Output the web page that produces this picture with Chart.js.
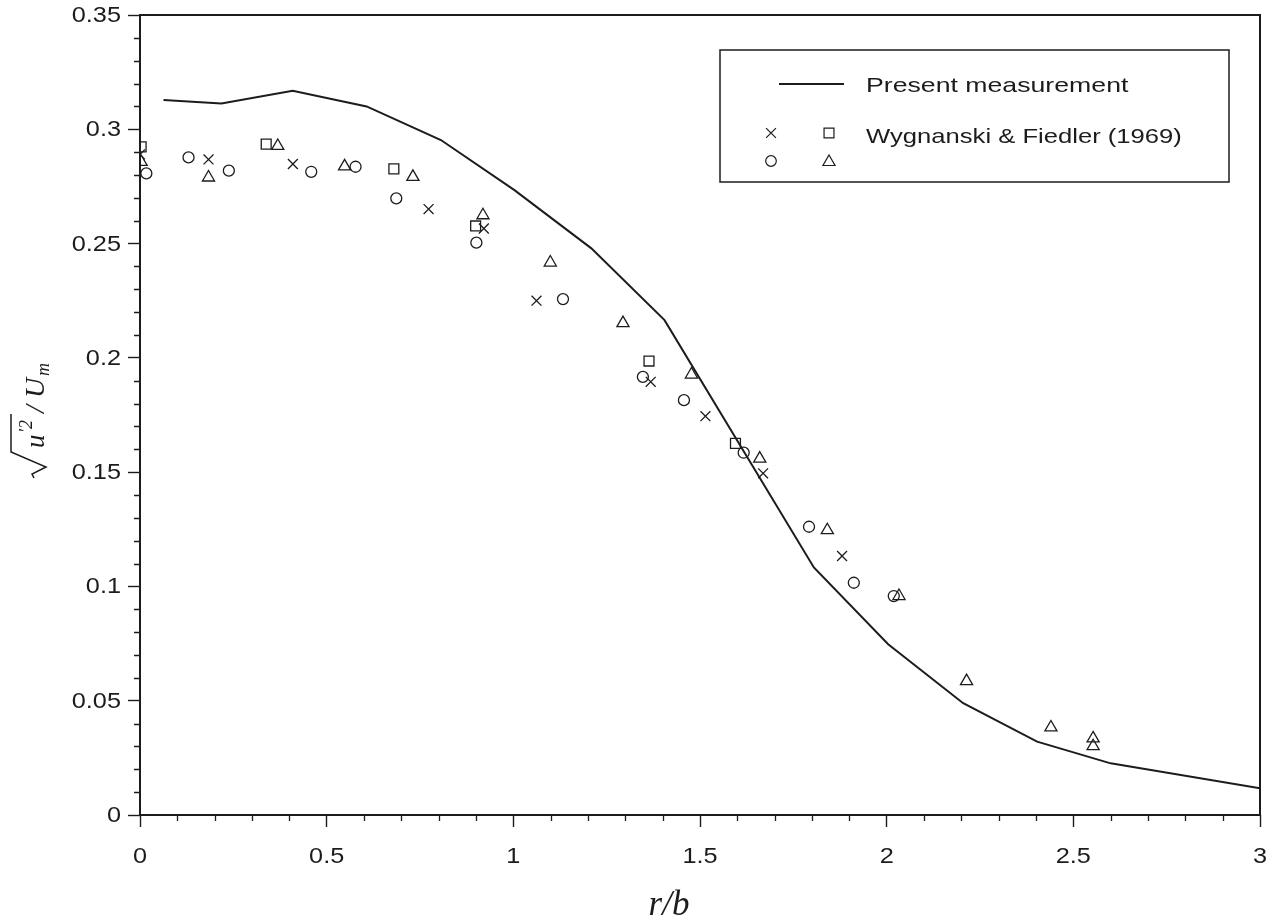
<!DOCTYPE html>
<html>
<head>
<meta charset="utf-8">
<script src="https://cdn.jsdelivr.net/npm/chart.js@4.4.1/dist/chart.umd.min.js"></script>
<style>
  html, body { margin: 0; padding: 0; background: #fff; }
  canvas { display: block; }
</style>
</head>
<body>
<canvas id="chart" width="1286" height="923"></canvas>
<script>
// present measurement (solid line)
const lineR = [0.063, 0.218, 0.409, 0.607, 0.806, 1.003, 1.209, 1.405, 1.805, 2.004, 2.205, 2.403, 2.600, 3.0];
const lineU = [0.3128, 0.3113, 0.3169, 0.3100, 0.2953, 0.2734, 0.2479, 0.2165, 0.1083, 0.0747, 0.0489, 0.0321, 0.0226, 0.0117];

// Wygnanski & Fiedler (1969), four symbol sets
const crossR = [0.0, 0.1835, 0.4095, 0.773, 0.921, 1.062, 1.368, 1.5145, 1.669, 1.8805];
const crossU = [0.289, 0.2868, 0.2848, 0.2651, 0.2566, 0.225, 0.1895, 0.1745, 0.1495, 0.1133];

const squareR = [0.003, 0.338, 0.680, 0.899, 1.3634, 1.595];
const squareU = [0.2923, 0.2935, 0.2827, 0.2577, 0.1986, 0.1626];

const circleR = [0.017, 0.130, 0.238, 0.4587, 0.5774, 0.6865, 0.901, 1.133, 1.347, 1.457, 1.617, 1.792, 1.912, 2.019];
const circleU = [0.2807, 0.2877, 0.2819, 0.2814, 0.2836, 0.2698, 0.2504, 0.2257, 0.1917, 0.1815, 0.1585, 0.1261, 0.1016, 0.0958];

const triR = [0.003, 0.1835, 0.369, 0.548, 0.731, 0.9186, 1.099, 1.2937, 1.477, 1.66, 1.841, 2.033, 2.214, 2.44, 2.553, 2.553];
const triU = [0.2857, 0.2789, 0.2927, 0.2838, 0.2792, 0.2624, 0.2417, 0.2152, 0.1927, 0.1559, 0.1246, 0.0958, 0.0586, 0.0383, 0.0335, 0.0301];

const xTickStep = 0.5, xMinorStep = 0.1;
const yTickStep = 0.05, yMinorStep = 0.01;

const ink = "#1c1c1c";
const sans = '"Liberation Sans", Arial, sans-serif';
const serif = '"Liberation Serif", "Times New Roman", serif';
const pts = (xs, ys) => xs.map((x, i) => ({ x, y: ys[i] }));
const fmt = (v) => String(+v.toFixed(2));

function marker(ctx, style, x, y, r) {
  ctx.beginPath();
  if (style === "crossRot") {
    const d = Math.SQRT1_2 * r;
    ctx.moveTo(x - d, y - d); ctx.lineTo(x + d, y + d);
    ctx.moveTo(x - d, y + d); ctx.lineTo(x + d, y - d);
  } else if (style === "rect") {
    const d = Math.SQRT1_2 * r;
    ctx.rect(x - d, y - d, 2 * d, 2 * d);
  } else if (style === "circle") {
    ctx.arc(x, y, r, 0, Math.PI * 2);
  } else if (style === "triangle") {
    ctx.moveTo(x, y - r);
    ctx.lineTo(x + Math.sin(Math.PI * 2 / 3) * r, y + r / 2);
    ctx.lineTo(x - Math.sin(Math.PI * 2 / 3) * r, y + r / 2);
    ctx.closePath();
  }
  ctx.stroke();
}

// the original font is a wide helvetica, so stretch it a bit
function wideText(ctx, text, x, y, align, sx) {
  ctx.save();
  ctx.translate(x, y);
  ctx.scale(sx, 1);
  ctx.textAlign = align;
  ctx.fillText(text, 0, 0);
  ctx.restore();
}

// frame, minor ticks, tick labels, legend and the axis titles
const extras = {
  id: "extras",
  afterDraw(chart) {
    const { ctx, chartArea: a, scales } = chart;
    ctx.save();
    ctx.strokeStyle = ink;
    ctx.fillStyle = ink;

    // box around plot
    ctx.lineWidth = 2;
    ctx.strokeRect(a.left, a.top, a.right - a.left, a.bottom - a.top);

    // minor ticks
    ctx.lineWidth = 1.3;
    ctx.beginPath();
    for (let i = 0; i <= 35; i++) {
      if (i % 5 === 0) continue;
      const py = Math.round(scales.y.getPixelForValue(i * yMinorStep)) + 0.5;
      ctx.moveTo(a.left - 6, py); ctx.lineTo(a.left, py);
    }
    for (let i = 0; i <= 30; i++) {
      if (i % 5 === 0) continue;
      const px = Math.round(scales.x.getPixelForValue(i * xMinorStep)) + 0.5;
      ctx.moveTo(px, a.bottom); ctx.lineTo(px, a.bottom + 6);
    }
    ctx.stroke();

    // tick labels
    ctx.font = "22px " + sans;
    ctx.textBaseline = "middle";
    scales.y.ticks.forEach((t) => {
      wideText(ctx, fmt(t.value), a.left - 19, scales.y.getPixelForValue(t.value) + 1, "right", 1.15);
    });
    ctx.textBaseline = "alphabetic";
    scales.x.ticks.forEach((t) => {
      wideText(ctx, fmt(t.value), scales.x.getPixelForValue(t.value), 863, "center", 1.15);
    });

    // legend
    ctx.fillStyle = "#fff";
    ctx.fillRect(720, 50, 509, 132);
    ctx.lineWidth = 1.5;
    ctx.strokeRect(720, 50, 509, 132);
    ctx.lineWidth = 2;
    ctx.beginPath(); ctx.moveTo(779, 84); ctx.lineTo(844, 84); ctx.stroke();
    ctx.lineWidth = 1.2;
    marker(ctx, "crossRot", 771, 133, 7);
    marker(ctx, "rect", 829, 133, 7);
    marker(ctx, "circle", 771, 161, 5.3);
    marker(ctx, "triangle", 829, 162, 7);
    ctx.fillStyle = ink;
    ctx.font = "21px " + sans;
    wideText(ctx, "Present measurement", 866, 92, "left", 1.27);
    wideText(ctx, "Wygnanski & Fiedler (1969)", 866, 143, "left", 1.22);

    // x title
    ctx.font = "italic 35px " + serif;
    ctx.textAlign = "center";
    ctx.fillText("r/b", 669, 915);

    // y title: sqrt(u'^2)/U_m, rotated
    ctx.translate(44, 478);
    ctx.rotate(-Math.PI / 2);
    ctx.lineWidth = 1.5;
    ctx.beginPath();
    ctx.moveTo(0, -10); ctx.lineTo(4, -12); ctx.lineTo(11, 2); ctx.lineTo(26, -33); ctx.lineTo(64, -33);
    ctx.stroke();
    ctx.textAlign = "left";
    ctx.font = "italic 27px " + serif;
    ctx.fillText("u", 30, 0);
    ctx.font = "italic 18px " + serif;
    ctx.fillText("\u20322", 45, -12);
    ctx.font = "italic 28px " + serif;
    ctx.fillText("/", 65, 0);
    ctx.fillText("U", 80, 0);
    ctx.font = "italic 18px " + serif;
    ctx.fillText("m", 102, 5);
    ctx.restore();
  },
};

const scatterSet = (label, xs, ys, style, r) => ({
  type: "scatter",
  label,
  data: pts(xs, ys),
  pointStyle: style,
  pointRadius: r,
  pointHoverRadius: r,
  pointBorderWidth: 1.3,
  borderColor: ink,
  backgroundColor: "rgba(0,0,0,0)",
  showLine: false,
});

new Chart(document.getElementById("chart"), {
  type: "scatter",
  data: {
    datasets: [
      {
        type: "line",
        label: "Present measurement",
        data: pts(lineR, lineU),
        borderColor: ink,
        borderWidth: 2,
        pointRadius: 0,
        tension: 0,
        fill: false,
      },
      scatterSet("cross", crossR, crossU, "crossRot", 7),
      scatterSet("square", squareR, squareU, "rect", 7),
      scatterSet("circle", circleR, circleU, "circle", 5.5),
      scatterSet("triangle", triR, triU, "triangle", 7),
    ],
  },
  options: {
    responsive: false,
    devicePixelRatio: 1,
    animation: false,
    layout: { padding: { top: 15, right: 26, left: 0, bottom: 0 } },
    plugins: { legend: { display: false }, tooltip: { enabled: false } },
    scales: {
      x: {
        type: "linear",
        min: 0,
        max: 3,
        afterFit: (s) => { s.height = 108; },
        border: { display: false },
        grid: { drawOnChartArea: false, tickLength: 12, tickColor: ink, tickWidth: 1.4 },
        ticks: { stepSize: xTickStep, display: false },
      },
      y: {
        type: "linear",
        min: 0,
        max: 0.35,
        afterFit: (s) => { s.width = 140; },
        border: { display: false },
        grid: { drawOnChartArea: false, tickLength: 12, tickColor: ink, tickWidth: 1.4 },
        ticks: { stepSize: yTickStep, display: false },
      },
    },
  },
  plugins: [extras],
});
</script>
</body>
</html>
